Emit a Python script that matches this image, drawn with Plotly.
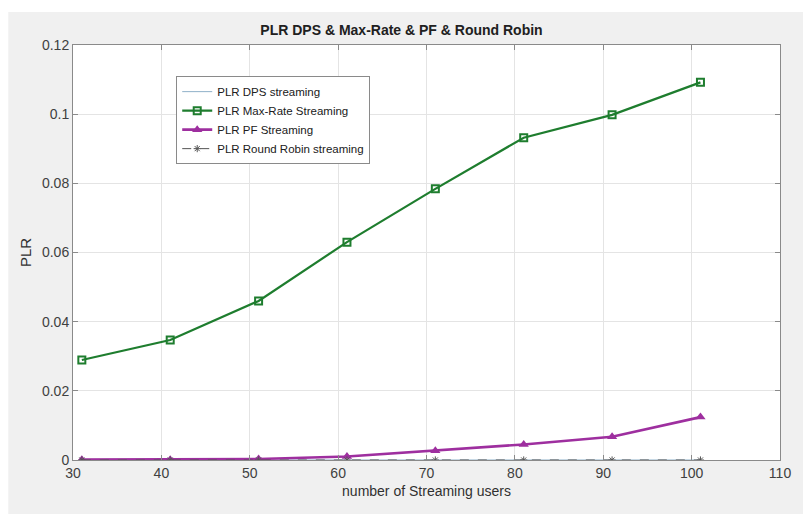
import plotly.graph_objects as go

users = [31, 41, 51, 61, 71, 81, 91, 101]
plr_dps = [0, 0, 0, 0, 0, 0, 0, 0]
plr_maxrate = [0.0289, 0.0347, 0.0460, 0.0630, 0.0784, 0.0932, 0.0998, 0.1092]
plr_pf = [0.0001, 0.0001, 0.0003, 0.0010, 0.0027, 0.0045, 0.0067, 0.0124]
plr_rr = [0, 0, 0, 0, 0, 0, 0, 0]

x_ticks = [30, 40, 50, 60, 70, 80, 90, 100, 110]
y_ticks = [0, 0.02, 0.04, 0.06, 0.08, 0.1, 0.12]

font = "Liberation Sans"
fig = go.Figure()

fig.add_trace(go.Scatter(x=users, y=plr_dps, mode="lines", name="PLR DPS streaming",
                         line=dict(color="#8fb1c8", width=1)))
fig.add_trace(go.Scatter(x=users, y=plr_maxrate, mode="lines+markers", name="PLR Max-Rate Streaming",
                         line=dict(color="#1e7d2e", width=2.2),
                         marker=dict(symbol="square-open", size=7, color="#1e7d2e", line=dict(width=2))))
fig.add_trace(go.Scatter(x=users, y=plr_pf, mode="lines+markers", name="PLR PF Streaming",
                         line=dict(color="#9e2f9f", width=2.6),
                         marker=dict(symbol="triangle-up", size=9, color="#9e2f9f")))
fig.add_trace(go.Scatter(x=users, y=plr_rr, mode="lines+markers", name="PLR Round Robin streaming",
                         line=dict(color="#555555", width=1, dash="dash"),
                         marker=dict(symbol="asterisk-open", size=6, color="#555555", line=dict(width=1, color="#555555"))))

axis_common = dict(showline=True, linecolor="#8a8a8a", linewidth=1, mirror="ticks",
                   ticks="inside", ticklen=5, tickcolor="#8a8a8a",
                   showgrid=True, gridcolor="#e4e4e4", gridwidth=1, zeroline=False,
                   tickfont=dict(family=font, size=14, color="#404040"))

fig.update_xaxes(range=[30, 110], tickvals=x_ticks,
                 title=dict(text="number of Streaming users", font=dict(family=font, size=14, color="#303030"), standoff=6),
                 **axis_common)
fig.update_yaxes(range=[0, 0.12], tickvals=y_ticks,
                 title=dict(text="PLR", font=dict(family=font, size=15, color="#303030"), standoff=6),
                 **axis_common)

fig.add_shape(type="rect", xref="paper", yref="paper", x0=-0.2, x1=1.2, y0=1.0795, y1=1.2,
              fillcolor="white", line=dict(width=0), layer="below")
fig.add_shape(type="rect", xref="paper", yref="paper", x0=-0.2, x1=-0.0915, y0=-0.3, y1=1.2,
              fillcolor="white", line=dict(width=0), layer="below")

fig.update_layout(
    width=803, height=514,
    margin=dict(l=73, r=12, t=45, b=54),
    paper_bgcolor="#f0f0f0", plot_bgcolor="white",
    title=dict(text="<b>PLR DPS & Max-Rate & PF & Round Robin</b>", x=0.5, xanchor="center",
               y=1 - 30 / 514, yanchor="middle", font=dict(family=font, size=14, color="#202020")),
    legend=dict(x=0.146, y=0.925, xanchor="left", yanchor="top",
                bgcolor="white", bordercolor="#8a8a8a", borderwidth=1,
                font=dict(family=font, size=11.5, color="#202020"), tracegroupgap=0,
                itemwidth=30),
    showlegend=True,
)

fig.write_html("out.html")
